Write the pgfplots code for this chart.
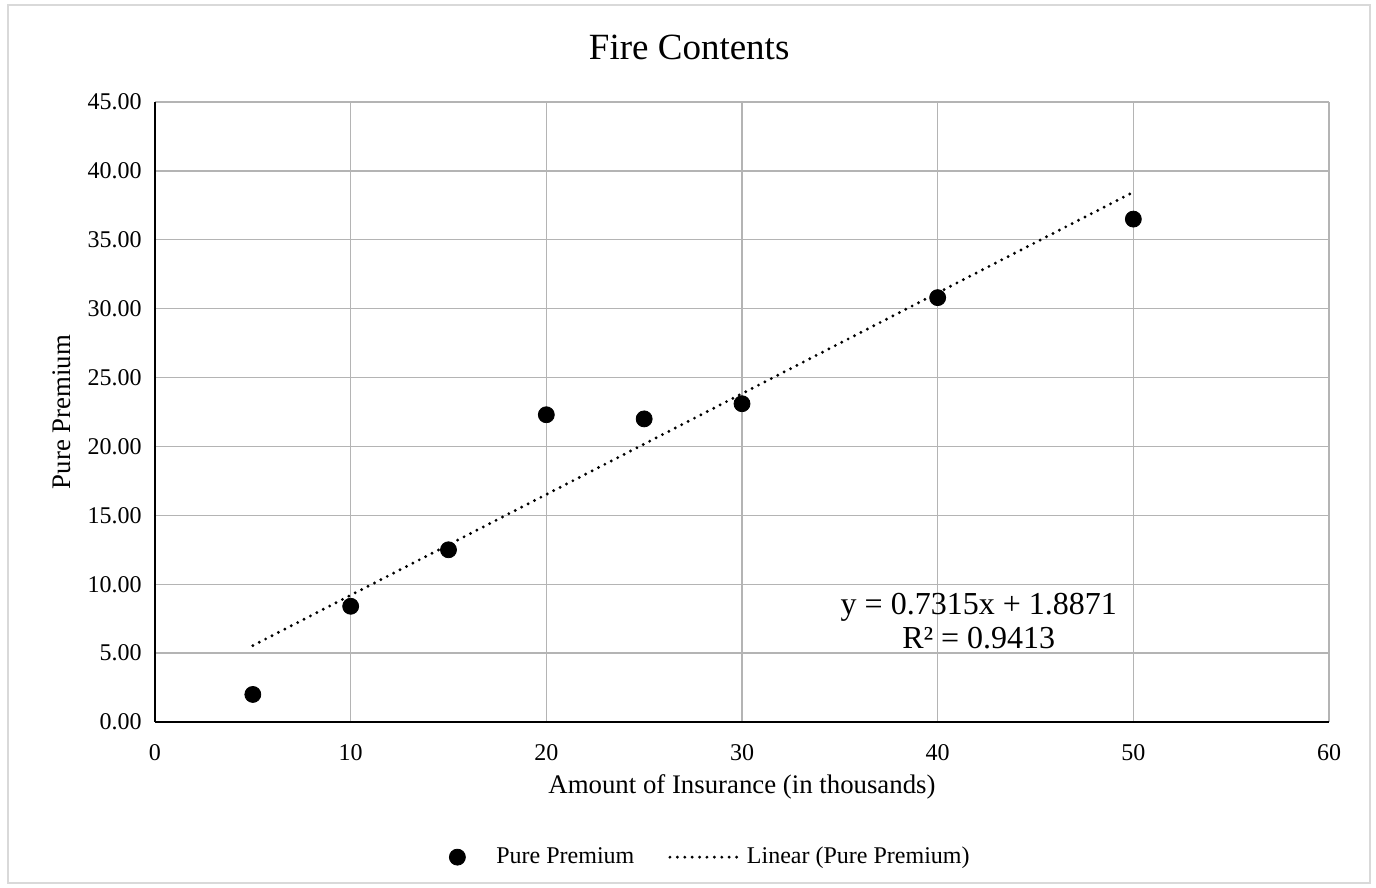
\documentclass[border=0pt]{standalone}
\usepackage{pgfplots}
\pgfplotsset{compat=1.18}
\usepackage{fontspec}
\setmainfont{Liberation Serif}

\definecolor{gridgray}{HTML}{B4B4B4}
\definecolor{framegray}{HTML}{D9D9D9}

\begin{document}
\begin{tikzpicture}
% page = 1376 x 888 px at 0.5pt per px, plot area lower-left at (0,0)
\path[use as bounding box] (-77.5pt,-83pt) rectangle (610.5pt,361pt);
\draw[framegray, line width=0.8pt] (-73.5pt,-80.5pt) rectangle (607.5pt,358.5pt);
\begin{axis}[
    at={(0,0)}, anchor=south west,
    scale only axis,
    width=587pt, height=310pt,
    xmin=0, xmax=60, ymin=0, ymax=45,
    xtick={0,10,...,60},
    ytick={0,5,...,45},
    grid=major,
    major grid style={gridgray, line width=0.65pt},
    major tick length=0pt,
    axis x line*=bottom, axis y line*=left,
    axis line style={-, black, line width=1.2pt},
    /pgf/number format/assume math mode=true,
    yticklabel={\pgfmathprintnumber[fixed, fixed zerofill, precision=2]{\tick}},
    xticklabel style={font=\fontsize{12}{14}\selectfont, anchor=north, inner sep=0pt, yshift=-11pt},
    yticklabel style={font=\fontsize{12}{14}\selectfont, anchor=east, inner sep=0pt, xshift=-6.5pt},
    title={Fire Contents},
    title style={font=\fontsize{18.5}{22}\selectfont, at={(0.455,1.069)}, anchor=center},
    xlabel={Amount of Insurance (in thousands)},
    xlabel style={font=\fontsize{13.4}{16}\selectfont, at={(0.5,-0.105)}, anchor=center},
    ylabel={Pure Premium},
    ylabel style={font=\fontsize{13.4}{16}\selectfont, at={(-0.079,0.5)}, anchor=center},
    legend columns=2,
    legend style={at={(0.474,-0.218)}, anchor=center, draw=none,
        font=\fontsize{12}{14}\selectfont,
        /tikz/every even column/.append style={column sep=15pt}},
]
\addplot[only marks, mark=*, mark size=4pt, black,
    legend image code/.code={\path[draw=none, fill=none] (-4pt,0pt) -- (17.5pt,0pt); \pgfuseplotmark{*}}]
    coordinates {
    (5,2.0) (10,8.4) (15,12.5) (20,22.3) (25,22.0) (30,23.1) (40,30.8) (50,36.5)
};
\addlegendentry{Pure Premium}
\addplot[black, line width=1.6pt, line cap=round, dash pattern=on 0pt off 3.6pt,
    legend image code/.code={\draw[black, line width=1.6pt, line cap=round, dash pattern=on 0pt off 3.7pt] (0pt,0pt) -- (33.5pt,0pt); \path[draw=none] (33.5pt,0pt) -- (36.5pt,0pt);}]
    coordinates {(5,5.545) (50,38.462)};
\addlegendentry{Linear (Pure Premium)}
\node[align=center, font=\fontsize{16}{17}\selectfont, inner sep=0pt] at (axis cs:42.1,7.3) {y = 0.7315x + 1.8871\\R² = 0.9413};
\end{axis}
\end{tikzpicture}
\end{document}
